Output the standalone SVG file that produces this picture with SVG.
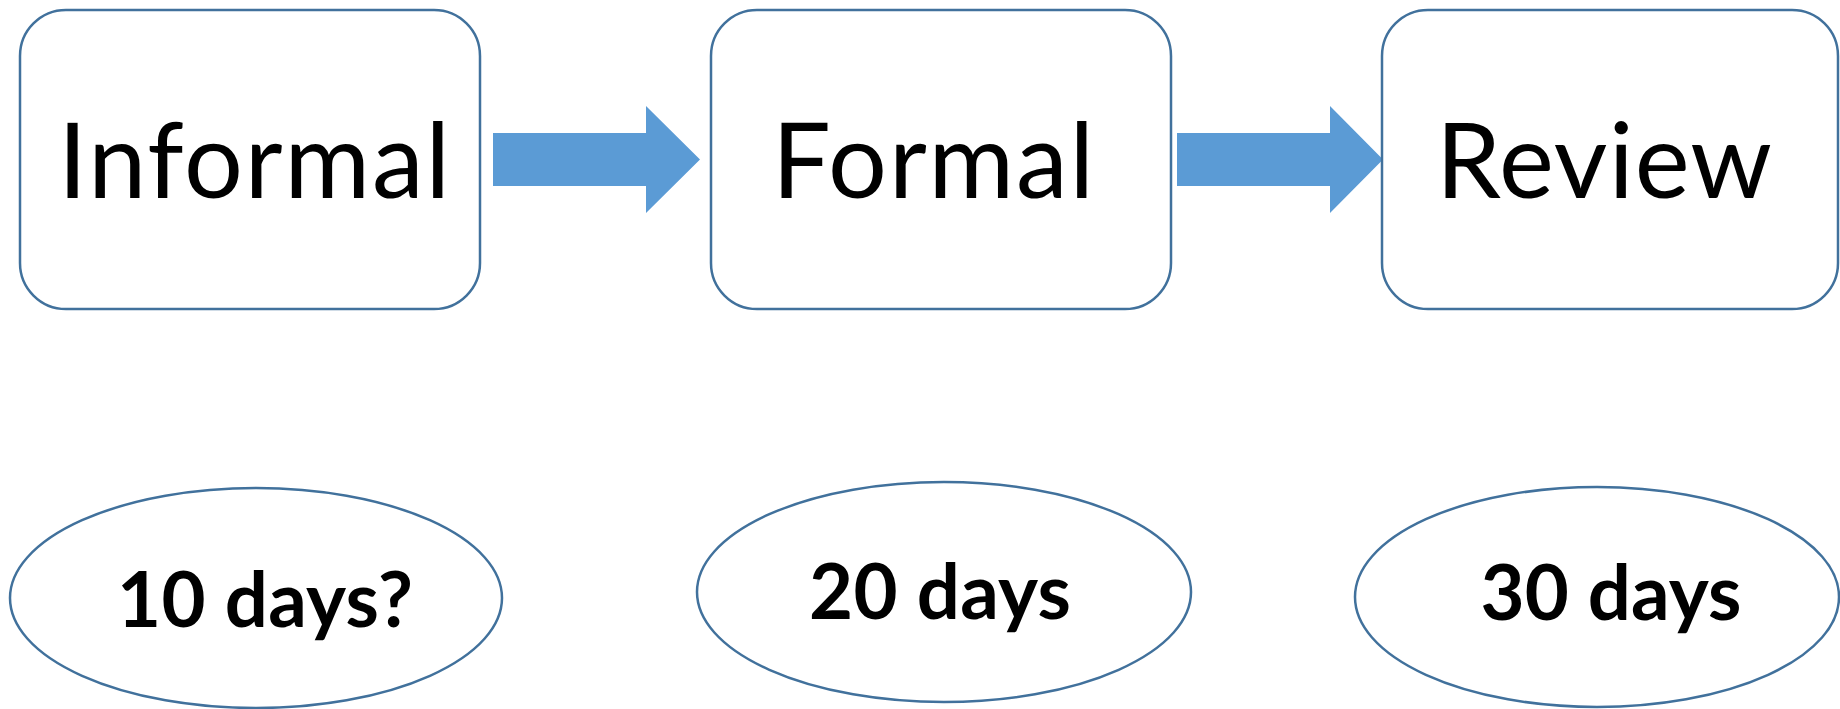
<svg xmlns="http://www.w3.org/2000/svg" width="1840" height="709" viewBox="0 0 1840 709">
<style>
.box{fill:#fff;stroke:#41719C;stroke-width:2.5}
.ell{fill:#fff;stroke:#41719C;stroke-width:2.5}
.arrow{fill:#5B9BD5}
.t{font-family:Lato,"Liberation Sans",sans-serif;font-size:104px;fill:#000;text-anchor:middle}
.d{font-family:Lato,"Liberation Sans",sans-serif;font-size:76px;font-weight:bold;fill:#000;text-anchor:middle}
</style>
<rect width="1840" height="709" fill="#fff"/>
<g id="connectors">
<path class="arrow" d="M493,133 H646 V106 L700,159.5 L646,213 V186 H493 Z"/>
<path class="arrow" d="M1177,133 H1330 V106 L1383,159.5 L1330,213 V186 H1177 Z"/>
</g>
<g id="informal">
<rect class="box" x="20" y="10" width="460" height="299" rx="46"/>
<text class="t" x="254" y="198" textLength="392" lengthAdjust="spacing">Informal</text>
</g>
<g id="formal">
<rect class="box" x="711" y="10" width="460" height="299" rx="46"/>
<text class="t" x="933" y="198" textLength="322" lengthAdjust="spacing">Formal</text>
</g>
<g id="review">
<rect class="box" x="1382" y="10" width="456" height="299" rx="46"/>
<text class="t" x="1604" y="198" textLength="336" lengthAdjust="spacing">Review</text>
</g>
<g id="days10">
<ellipse class="ell" cx="256" cy="598" rx="246" ry="110"/>
<text class="d" x="265" y="627" textLength="296" lengthAdjust="spacing">10 days?</text>
</g>
<g id="days20">
<ellipse class="ell" cx="944" cy="592" rx="247" ry="110"/>
<text class="d" x="940" y="619" textLength="262" lengthAdjust="spacing">20 days</text>
</g>
<g id="days30">
<ellipse class="ell" cx="1597" cy="597" rx="242" ry="110"/>
<text class="d" x="1611" y="620" textLength="261" lengthAdjust="spacing">30 days</text>
</g>
</svg>
